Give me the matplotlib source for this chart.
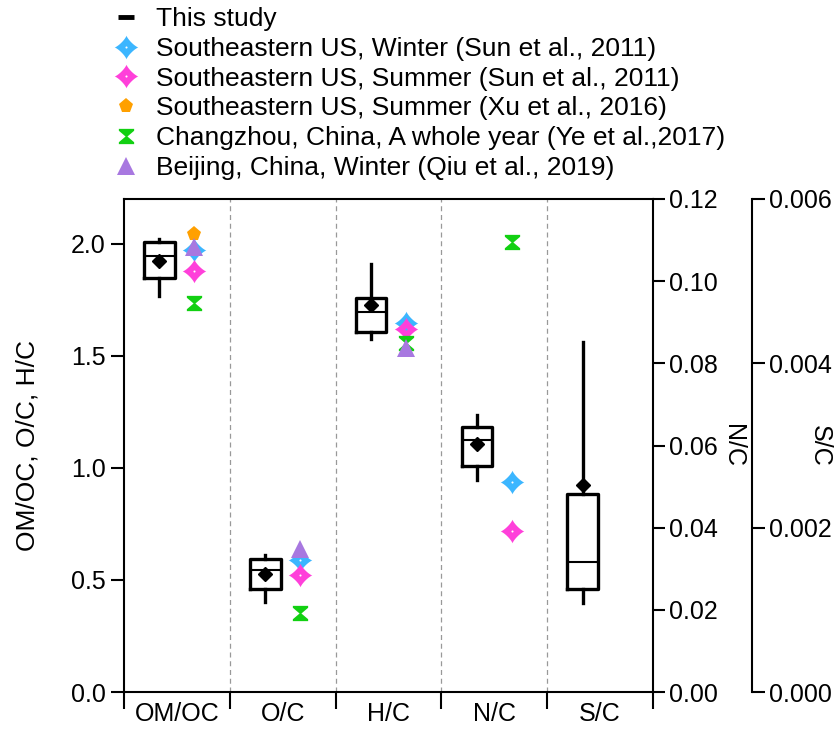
import numpy as np
import matplotlib
matplotlib.use('Agg')
import matplotlib.pyplot as plt
from matplotlib.path import Path
from matplotlib.lines import Line2D
from matplotlib.ticker import FixedLocator, FormatStrFormatter, NullFormatter

plt.rcParams['font.family'] = ['Liberation Sans', 'DejaVu Sans']

# ---------------- data ----------------
categories = ['OM/OC', 'O/C', 'H/C', 'N/C', 'S/C']
# "This study" box statistics
whis_lo = [1.768, 0.401, 1.575, 0.0517, 0.001085]
q1      = [1.848, 0.461, 1.608, 0.0550, 0.001252]
median  = [1.944, 0.544, 1.694, 0.0613, 0.001588]
q3      = [2.006, 0.595, 1.758, 0.0646, 0.002415]
whis_hi = [2.020, 0.610, 1.910, 0.0674, 0.004256]
mean    = [1.922, 0.525, 1.728, 0.0604, 0.002518]

# literature values
sun_winter = [1.974, 0.589, 1.646, 0.0511, np.nan]
sun_summer = [1.877, 0.520, 1.619, 0.0391, np.nan]
xu_summer  = [2.046, np.nan, np.nan, np.nan, np.nan]
ye_year    = [1.738, 0.354, 1.556, 0.1096, np.nan]
qiu_winter = [1.986, 0.637, 1.534, np.nan, np.nan]

labels = ['This study',
          'Southeastern US, Winter (Sun et al., 2011)',
          'Southeastern US, Summer (Sun et al., 2011)',
          'Southeastern US, Summer (Xu et al., 2016)',
          'Changzhou, China, A whole year (Ye et al.,2017)',
          'Beijing, China, Winter (Qiu et al., 2019)']

left_ticks = [0.0, 0.5, 1.0, 1.5, 2.0]
nc_ticks = [0.00, 0.02, 0.04, 0.06, 0.08, 0.10, 0.12]
sc_ticks = [0.000, 0.002, 0.004, 0.006]

# ---------------- marker shapes ----------------
t = np.linspace(0, 2 * np.pi, 73)[:-1]
ex = 2.5
sx = np.sign(np.cos(t)) * np.abs(np.cos(t)) ** ex
sy = np.sign(np.sin(t)) * np.abs(np.sin(t)) ** ex
outer = np.column_stack([sx, sy])[::-1]  # clockwise
th = np.linspace(0, 2 * np.pi, 13)[:-1]
inner = np.column_stack([0.09 * np.cos(th), 0.09 * np.sin(th)])  # ccw -> hole
verts = np.vstack([outer, outer[:1], inner, inner[:1]])
codes = ([Path.MOVETO] + [Path.LINETO] * (len(outer) - 1) + [Path.CLOSEPOLY] +
         [Path.MOVETO] + [Path.LINETO] * (len(inner) - 1) + [Path.CLOSEPOLY])
star = Path(verts, codes)

hg = [(-1, 1), (1, 1), (1, 0.75), (0.12, 0), (1, -0.75), (1, -1),
      (-1, -1), (-1, -0.75), (-0.12, 0), (-1, 0.75), (-1, 1)]
hourglass = Path(hg, [Path.MOVETO] + [Path.LINETO] * 9 + [Path.CLOSEPOLY])

series = [
    (sun_winter, dict(marker=star, color='#3CB6FF', ms=17)),
    (sun_summer, dict(marker=star, color='#FF40DA', ms=17)),
    (xu_summer, dict(marker='p', color='#FFA000', ms=11)),
    (ye_year, dict(marker=hourglass, color='#12D012', ms=11)),
    (qiu_winter, dict(marker='^', color='#A878E0', ms=13)),
]

# ---------------- figure ----------------
W, H = 837, 729
fig = plt.figure(figsize=(W / 100, H / 100), dpi=100)
ax = fig.add_axes([124 / W, (729 - 692) / H, (653 - 124) / W, (692 - 199) / H])
ax_n = ax.twinx()
ax_s = ax.twinx()

ax.set_ylim(0, 2.2)
ax_n.set_ylim(0, 0.12)
ax_s.set_ylim(0, 0.006)
ax.set_xlim(-0.5, len(categories) - 0.5)

axes_for = [ax, ax, ax, ax_n, ax_s]
offset = 0.165

# boxes
for i, cat in enumerate(categories):
    st = [dict(med=median[i], q1=q1[i], q3=q3[i], whislo=whis_lo[i],
               whishi=whis_hi[i], mean=mean[i], label=cat)]
    axes_for[i].bxp(st, positions=[i - offset], widths=0.29, showfliers=False,
                    showcaps=False, showmeans=True, manage_ticks=False,
                    boxprops=dict(color='black', lw=2.4),
                    whiskerprops=dict(color='black', lw=2.4),
                    medianprops=dict(color='black', lw=1.5),
                    meanprops=dict(marker='D', markerfacecolor='black',
                                   markeredgecolor='black', markersize=7.5))

# literature markers
for vals, kw in series:
    for i, v in enumerate(vals):
        if np.isnan(v):
            continue
        axes_for[i].plot([i + offset], [v], ls='None', marker=kw['marker'],
                         color=kw['color'], markersize=kw['ms'],
                         markeredgewidth=0, zorder=5)

# separators
for b in np.arange(0.5, len(categories) - 0.5, 1.0):
    ax.axvline(b, color='#999999', ls=(0, (4, 3)), lw=0.9, zorder=0)

# x axis
ax.xaxis.set_major_locator(FixedLocator(np.arange(-0.5, len(categories), 1.0)))
ax.xaxis.set_major_formatter(NullFormatter())
ax.xaxis.set_minor_locator(FixedLocator(np.arange(len(categories))))
ax.set_xticklabels(categories, minor=True)
ax.tick_params(axis='x', which='major', direction='out', length=12.5, width=1.5)
ax.tick_params(axis='x', which='minor', length=0, pad=7, labelsize=18)

# left axis
ax.set_yticks(left_ticks)
ax.yaxis.set_major_formatter(FormatStrFormatter('%.1f'))
ax.tick_params(axis='y', direction='out', length=9.5, width=1.5, pad=3.5, labelsize=18)
ax.set_ylabel('OM/OC, O/C, H/C', fontsize=19)
ax.yaxis.set_label_coords(-0.16, 0.5)

for sp in ['left', 'bottom', 'top']:
    ax.spines[sp].set_linewidth(1.5)
ax.spines['right'].set_visible(False)

# N/C axis
ax_n.set_yticks(nc_ticks)
ax_n.yaxis.set_major_formatter(FormatStrFormatter('%.2f'))
ax_n.tick_params(axis='y', direction='out', length=8.5, width=1.5, pad=3, labelsize=18)
for sp in ['left', 'bottom', 'top']:
    ax_n.spines[sp].set_visible(False)
ax_n.spines['right'].set_linewidth(1.5)
ax_n.set_ylabel('N/C', fontsize=18, rotation=270, va='bottom')
ax_n.yaxis.set_label_coords(1.128, 0.5)

# S/C axis
ax_s.spines['right'].set_position(('axes', 1.187))
for sp in ['left', 'bottom', 'top']:
    ax_s.spines[sp].set_visible(False)
ax_s.spines['right'].set_linewidth(1.5)
ax_s.set_yticks(sc_ticks)
ax_s.yaxis.set_major_formatter(FormatStrFormatter('%.3f'))
ax_s.tick_params(axis='y', direction='out', length=9, width=1.5, pad=3, labelsize=18)
ax_s.set_ylabel('S/C', fontsize=18, rotation=270, va='bottom')
ax_s.yaxis.set_label_coords(1.292, 0.5)

# legend
handles = [Line2D([], [], color='black', marker='_', ls='None', ms=11, mew=3.5)]
for vals, kw in series:
    handles.append(Line2D([], [], ls='None', marker=kw['marker'], color=kw['color'],
                          markersize=kw['ms'], markeredgewidth=0))
fig.legend(handles, labels, loc='upper left', bbox_to_anchor=(110 / W, 1 - 7 / H),
           frameon=False, fontsize=19, handlelength=1.2, handletextpad=0.55,
           labelspacing=0.22, borderpad=0, borderaxespad=0)

fig.savefig('out.png', dpi=100)
